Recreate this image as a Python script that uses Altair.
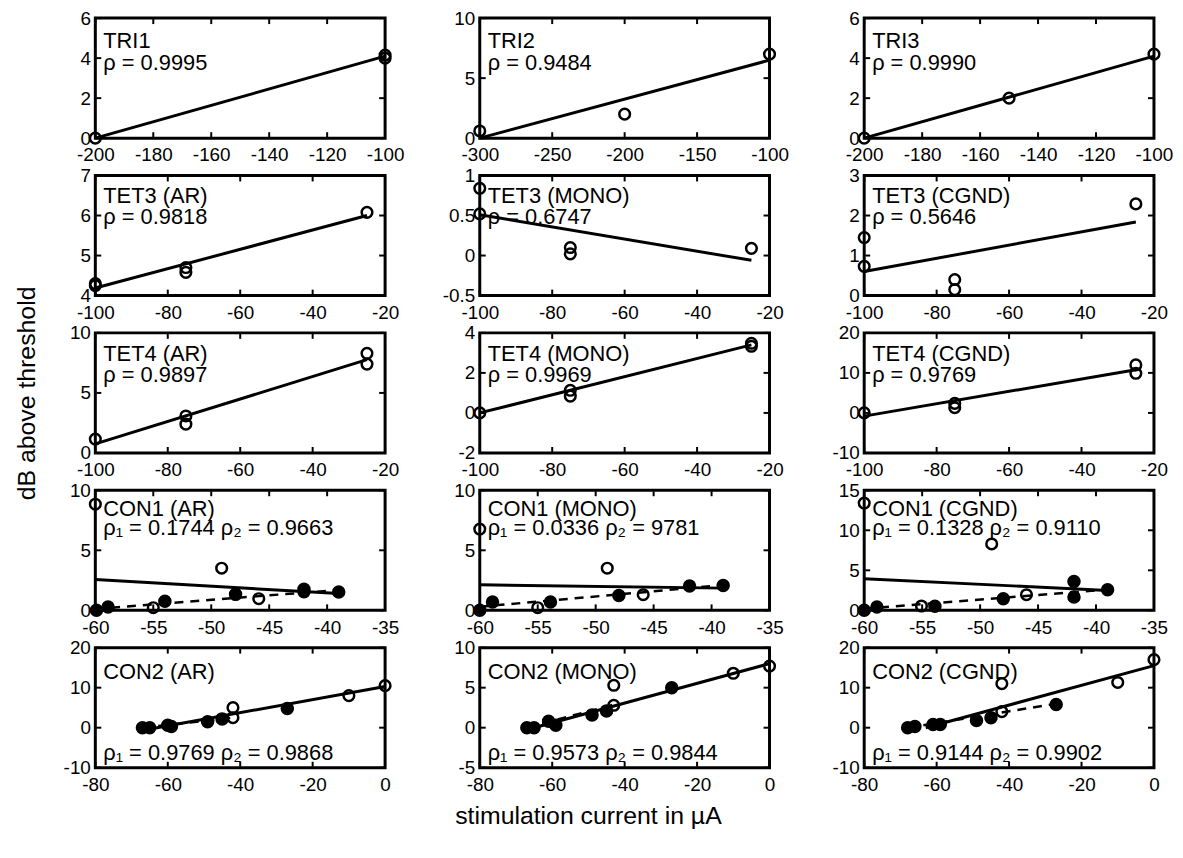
import altair as alt
import pandas as pd

FONT = "Liberation Sans"
W, H = 292, 121

# ---------------- data ----------------
# Row 1: TRI
tri1_open_x = [-200, -100, -100]
tri1_open_y = [0.0, 4.15, 4.0]
tri1_fit_x = [-200, -100]
tri1_fit_y = [0.0, 4.1]

tri2_open_x = [-300, -200, -100]
tri2_open_y = [0.6, 2.0, 7.0]
tri2_fit_x = [-300, -100]
tri2_fit_y = [0.0, 6.5]

tri3_open_x = [-200, -150, -100]
tri3_open_y = [0.0, 2.0, 4.2]
tri3_fit_x = [-200, -100]
tri3_fit_y = [0.0, 4.1]

# Row 2: TET3
tet3ar_open_x = [-100, -100, -75, -75, -25]
tet3ar_open_y = [4.3, 4.25, 4.7, 4.58, 6.08]
tet3ar_fit_x = [-100, -25]
tet3ar_fit_y = [4.19, 6.0]

tet3mono_open_x = [-100, -100, -75, -75, -25]
tet3mono_open_y = [0.84, 0.52, 0.10, 0.02, 0.09]
tet3mono_fit_x = [-100, -25]
tet3mono_fit_y = [0.51, -0.06]

tet3cgnd_open_x = [-100, -100, -75, -75, -25]
tet3cgnd_open_y = [1.45, 0.73, 0.40, 0.15, 2.29]
tet3cgnd_fit_x = [-100, -25]
tet3cgnd_fit_y = [0.6, 1.84]

# Row 3: TET4
tet4ar_open_x = [-100, -75, -75, -25, -25]
tet4ar_open_y = [1.16, 3.08, 2.4, 8.3, 7.4]
tet4ar_fit_x = [-100, -25]
tet4ar_fit_y = [0.75, 7.77]

tet4mono_open_x = [-100, -75, -75, -25, -25]
tet4mono_open_y = [0.0, 1.13, 0.84, 3.48, 3.33]
tet4mono_fit_x = [-100, -25]
tet4mono_fit_y = [0.0, 3.4]

tet4cgnd_open_x = [-100, -75, -75, -25, -25]
tet4cgnd_open_y = [0.0, 2.4, 1.3, 12.0, 9.9]
tet4cgnd_fit_x = [-100, -25]
tet4cgnd_fit_y = [-0.8, 10.8]

# Row 4: CON1
con1ar_open_x = [-60, -49.1, -55.0, -45.9]
con1ar_open_y = [8.84, 3.51, 0.22, 0.97]
con1ar_fill_x = [-59.9, -58.9, -54.0, -47.9, -42.0, -42.0, -39.0]
con1ar_fill_y = [0.0, 0.28, 0.75, 1.33, 1.75, 1.55, 1.52]
con1ar_fit_x = [-60, -39]
con1ar_fit_y = [2.57, 1.4]
con1ar_dash_x = [-60, -39]
con1ar_dash_y = [0.12, 1.7]

con1mono_open_x = [-60, -49.0, -55.0, -45.9]
con1mono_open_y = [6.77, 3.51, 0.22, 1.30]
con1mono_fill_x = [-60, -58.9, -53.9, -48.0, -41.9, -39.0]
con1mono_fill_y = [0.0, 0.69, 0.69, 1.24, 2.02, 2.07]
con1mono_fit_x = [-60, -39]
con1mono_fit_y = [2.13, 1.85]
con1mono_dash_x = [-60, -39]
con1mono_dash_y = [0.3, 2.1]

con1cgnd_open_x = [-60, -49.0, -55.06, -46.0]
con1cgnd_open_y = [13.4, 8.29, 0.54, 1.95]
con1cgnd_fill_x = [-60, -58.9, -53.9, -48.0, -41.9, -41.9, -39.0]
con1cgnd_fill_y = [0.0, 0.41, 0.5, 1.45, 3.6, 1.66, 2.57]
con1cgnd_fit_x = [-60, -39]
con1cgnd_fit_y = [3.94, 2.49]
con1cgnd_dash_x = [-60, -39]
con1cgnd_dash_y = [0.2, 2.6]

# Row 5: CON2
con2ar_open_x = [-42, -42, -10, 0]
con2ar_open_y = [5.0, 2.5, 8.0, 10.5]
con2ar_fill_x = [-67, -65, -60, -59, -49, -45, -27]
con2ar_fill_y = [0.0, 0.0, 0.6, 0.3, 1.5, 2.2, 4.8]
con2ar_fit_x = [-66, 0]
con2ar_fit_y = [-0.5, 10.3]
con2ar_dash_x = [-67, -42]
con2ar_dash_y = [0.0, 2.5]

con2mono_open_x = [-43, -43, -10, 0]
con2mono_open_y = [5.3, 2.8, 6.8, 7.7]
con2mono_fill_x = [-67, -65, -61, -59, -49, -45, -27]
con2mono_fill_y = [0.0, 0.0, 0.8, 0.3, 1.6, 2.1, 5.0]
con2mono_fit_x = [-65, 0]
con2mono_fit_y = [0.0, 8.0]
con2mono_dash_x = [-67, -42]
con2mono_dash_y = [0.0, 3.0]

con2cgnd_open_x = [-42, -42, -10, 0]
con2cgnd_open_y = [11.0, 4.0, 11.3, 17.0]
con2cgnd_fill_x = [-68, -66, -61, -59, -49, -45, -27]
con2cgnd_fill_y = [0.0, 0.3, 0.8, 0.8, 1.8, 2.5, 5.8]
con2cgnd_fit_x = [-63, 0]
con2cgnd_fit_y = [0.0, 15.5]
con2cgnd_dash_x = [-68, -27]
con2cgnd_dash_y = [0.0, 6.0]

# axis ticks
x_tri13 = [-200, -180, -160, -140, -120, -100]
x_tri2 = [-300, -250, -200, -150, -100]
x_tet = [-100, -80, -60, -40, -20]
x_con1 = [-60, -55, -50, -45, -40, -35]
x_con2 = [-80, -60, -40, -20, 0]

# panel labels
NB = "\u00a0"
lab_tri1 = ["TRI1", "ρ = 0.9995"]
lab_tri2 = ["TRI2", "ρ = 0.9484"]
lab_tri3 = ["TRI3", "ρ = 0.9990"]
lab_tet3ar = ["TET3 (AR)", "ρ = 0.9818"]
lab_tet3mono = ["TET3 (MONO)", "ρ = 0.6747"]
lab_tet3cgnd = ["TET3 (CGND)", "ρ = 0.5646"]
lab_tet4ar = ["TET4 (AR)", NB + "ρ = 0.9897"]
lab_tet4mono = ["TET4 (MONO)", "ρ = 0.9969"]
lab_tet4cgnd = ["TET4 (CGND)", NB + "ρ = 0.9769"]
lab_con1ar = ["CON1 (AR)", "ρ₁ = 0.1744 ρ₂ = 0.9663"]
lab_con1mono = ["CON1 (MONO)", NB + "ρ₁ = 0.0336 ρ₂ = 9781"]
lab_con1cgnd = ["CON1 (CGND)", "ρ₁ = 0.1328 ρ₂ = 0.9110"]
lab_con2ar = ["CON2 (AR)", "ρ₁ = 0.9769 ρ₂ = 0.9868"]
lab_con2mono = ["CON2 (MONO)", "ρ₁ = 0.9573 ρ₂ = 0.9844"]
lab_con2cgnd = ["CON2 (CGND)", "ρ₁ = 0.9144 ρ₂ = 0.9902"]

LABEL_EXPR = "replace(format(datum.value, '~f'), '\u2212', '-')"


def df(xs, ys):
    return pd.DataFrame({"x": xs, "y": ys})


def panel(open_xy, fit_xy, xdom, xticks, ydom, yticks, labels, label_y,
          fill_xy=None, dash_xy=None, xtitle=None, ytitle=None):
    xaxis = alt.Axis(values=xticks, grid=False, ticks=False, domain=False,
                     labelFont=FONT, labelFontSize=19, labelColor="black",
                     labelPadding=8, labelOverlap=False, labelFlush=False,
                     labelExpr=LABEL_EXPR, title=xtitle,
                     titleFont=FONT, titleFontSize=25, titleFontWeight="normal",
                     titleColor="black", titleX=109, titleY=56, titleBaseline="alphabetic")
    yaxis = alt.Axis(values=yticks, grid=False, ticks=False, domain=False,
                     labelFont=FONT, labelFontSize=19, labelColor="black",
                     labelPadding=5, labelOverlap=False, labelFlush=False,
                     labelExpr=LABEL_EXPR, title=ytitle,
                     titleFont=FONT, titleFontSize=25, titleFontWeight="normal",
                     titleColor="black", titleX=-69, titleBaseline="middle")
    X = alt.X("x:Q", scale=alt.Scale(domain=xdom, nice=False, zero=False), axis=xaxis)
    Y = alt.Y("y:Q", scale=alt.Scale(domain=ydom, nice=False, zero=False), axis=yaxis)

    layers = []
    # inward tick marks on all four sides of the frame
    xt = pd.DataFrame({"x": xticks})
    yt = pd.DataFrame({"y": yticks})
    tick_kw = dict(color="black", thickness=2, size=5, opacity=1)
    layers.append(alt.Chart(xt).mark_tick(**tick_kw).encode(x=X, y=alt.value(H - 3.5)))
    layers.append(alt.Chart(xt).mark_tick(**tick_kw).encode(x=X, y=alt.value(3.5)))
    layers.append(alt.Chart(yt).mark_tick(**tick_kw).encode(y=Y, x=alt.value(3.5)))
    layers.append(alt.Chart(yt).mark_tick(**tick_kw).encode(y=Y, x=alt.value(W - 3.5)))

    layers.append(alt.Chart(df(*fit_xy)).mark_line(color="black", strokeWidth=3).encode(x=X, y=Y))
    if dash_xy is not None:
        layers.append(alt.Chart(df(*dash_xy)).mark_line(color="black", strokeWidth=2.5,
                                                         strokeDash=[9, 7]).encode(x=X, y=Y))
    layers.append(alt.Chart(df(*open_xy)).mark_point(shape="circle", filled=False, color="black",
                                                      strokeWidth=2.5, size=115, opacity=1).encode(x=X, y=Y))
    if fill_xy is not None:
        layers.append(alt.Chart(df(*fill_xy)).mark_point(shape="circle", filled=True, color="black",
                                                          size=185, opacity=1).encode(x=X, y=Y))
    tdf = pd.DataFrame({"t": labels, "yy": label_y})
    layers.append(alt.Chart(tdf).mark_text(align="left", baseline="alphabetic", font=FONT,
                                           fontSize=22, color="black").encode(
        text="t:N", x=alt.value(8), y=alt.Y("yy:Q", scale=None, axis=None)))
    return alt.layer(*layers).properties(width=W, height=H)


LY_A = [30, 52]
LY_B = [28, 49]
LY_C = [26, 45]
LY_D = [32, 113]

panels = [
    panel((tri1_open_x, tri1_open_y), (tri1_fit_x, tri1_fit_y), [-200, -100], x_tri13, [0, 6], [0, 2, 4, 6], lab_tri1, LY_A),
    panel((tri2_open_x, tri2_open_y), (tri2_fit_x, tri2_fit_y), [-300, -100], x_tri2, [0, 10], [0, 5, 10], lab_tri2, LY_A),
    panel((tri3_open_x, tri3_open_y), (tri3_fit_x, tri3_fit_y), [-200, -100], x_tri13, [0, 6], [0, 2, 4, 6], lab_tri3, LY_A),

    panel((tet3ar_open_x, tet3ar_open_y), (tet3ar_fit_x, tet3ar_fit_y), [-100, -20], x_tet, [4, 7], [4, 5, 6, 7], lab_tet3ar, LY_B),
    panel((tet3mono_open_x, tet3mono_open_y), (tet3mono_fit_x, tet3mono_fit_y), [-100, -20], x_tet, [-0.5, 1], [-0.5, 0, 0.5, 1], lab_tet3mono, LY_B),
    panel((tet3cgnd_open_x, tet3cgnd_open_y), (tet3cgnd_fit_x, tet3cgnd_fit_y), [-100, -20], x_tet, [0, 3], [0, 1, 2, 3], lab_tet3cgnd, LY_B),

    panel((tet4ar_open_x, tet4ar_open_y), (tet4ar_fit_x, tet4ar_fit_y), [-100, -20], x_tet, [0, 10], [0, 5, 10], lab_tet4ar, LY_B,
          ytitle="dB above threshold"),
    panel((tet4mono_open_x, tet4mono_open_y), (tet4mono_fit_x, tet4mono_fit_y), [-100, -20], x_tet, [-2, 4], [-2, 0, 2, 4], lab_tet4mono, LY_B),
    panel((tet4cgnd_open_x, tet4cgnd_open_y), (tet4cgnd_fit_x, tet4cgnd_fit_y), [-100, -20], x_tet, [-10, 20], [-10, 0, 10, 20], lab_tet4cgnd, LY_B),

    panel((con1ar_open_x, con1ar_open_y), (con1ar_fit_x, con1ar_fit_y), [-60, -35], x_con1, [0, 10], [0, 5, 10], lab_con1ar, LY_C,
          fill_xy=(con1ar_fill_x, con1ar_fill_y), dash_xy=(con1ar_dash_x, con1ar_dash_y)),
    panel((con1mono_open_x, con1mono_open_y), (con1mono_fit_x, con1mono_fit_y), [-60, -35], x_con1, [0, 10], [0, 5, 10], lab_con1mono, LY_C,
          fill_xy=(con1mono_fill_x, con1mono_fill_y), dash_xy=(con1mono_dash_x, con1mono_dash_y)),
    panel((con1cgnd_open_x, con1cgnd_open_y), (con1cgnd_fit_x, con1cgnd_fit_y), [-60, -35], x_con1, [0, 15], [0, 5, 10, 15], lab_con1cgnd, LY_C,
          fill_xy=(con1cgnd_fill_x, con1cgnd_fill_y), dash_xy=(con1cgnd_dash_x, con1cgnd_dash_y)),

    panel((con2ar_open_x, con2ar_open_y), (con2ar_fit_x, con2ar_fit_y), [-80, 0], x_con2, [-10, 20], [-10, 0, 10, 20], lab_con2ar, LY_D,
          fill_xy=(con2ar_fill_x, con2ar_fill_y), dash_xy=(con2ar_dash_x, con2ar_dash_y)),
    panel((con2mono_open_x, con2mono_open_y), (con2mono_fit_x, con2mono_fit_y), [-80, 0], x_con2, [-5, 10], [-5, 0, 5, 10], lab_con2mono, LY_D,
          fill_xy=(con2mono_fill_x, con2mono_fill_y), dash_xy=(con2mono_dash_x, con2mono_dash_y),
          xtitle="stimulation current in µA"),
    panel((con2cgnd_open_x, con2cgnd_open_y), (con2cgnd_fit_x, con2cgnd_fit_y), [-80, 0], x_con2, [-10, 20], [-10, 0, 10, 20], lab_con2cgnd, LY_D,
          fill_xy=(con2cgnd_fill_x, con2cgnd_fill_y), dash_xy=(con2cgnd_dash_x, con2cgnd_dash_y)),
]

chart = alt.concat(*panels, columns=3, spacing={"row": 37.6, "column": 95.4}, bounds="flush").properties(
    padding={"left": 5, "top": -4, "right": 0, "bottom": 0},
    background="white",
).configure_view(
    stroke="black", strokeWidth=3
)

chart.save("out.html", embed_options={"renderer": "svg", "actions": False})
